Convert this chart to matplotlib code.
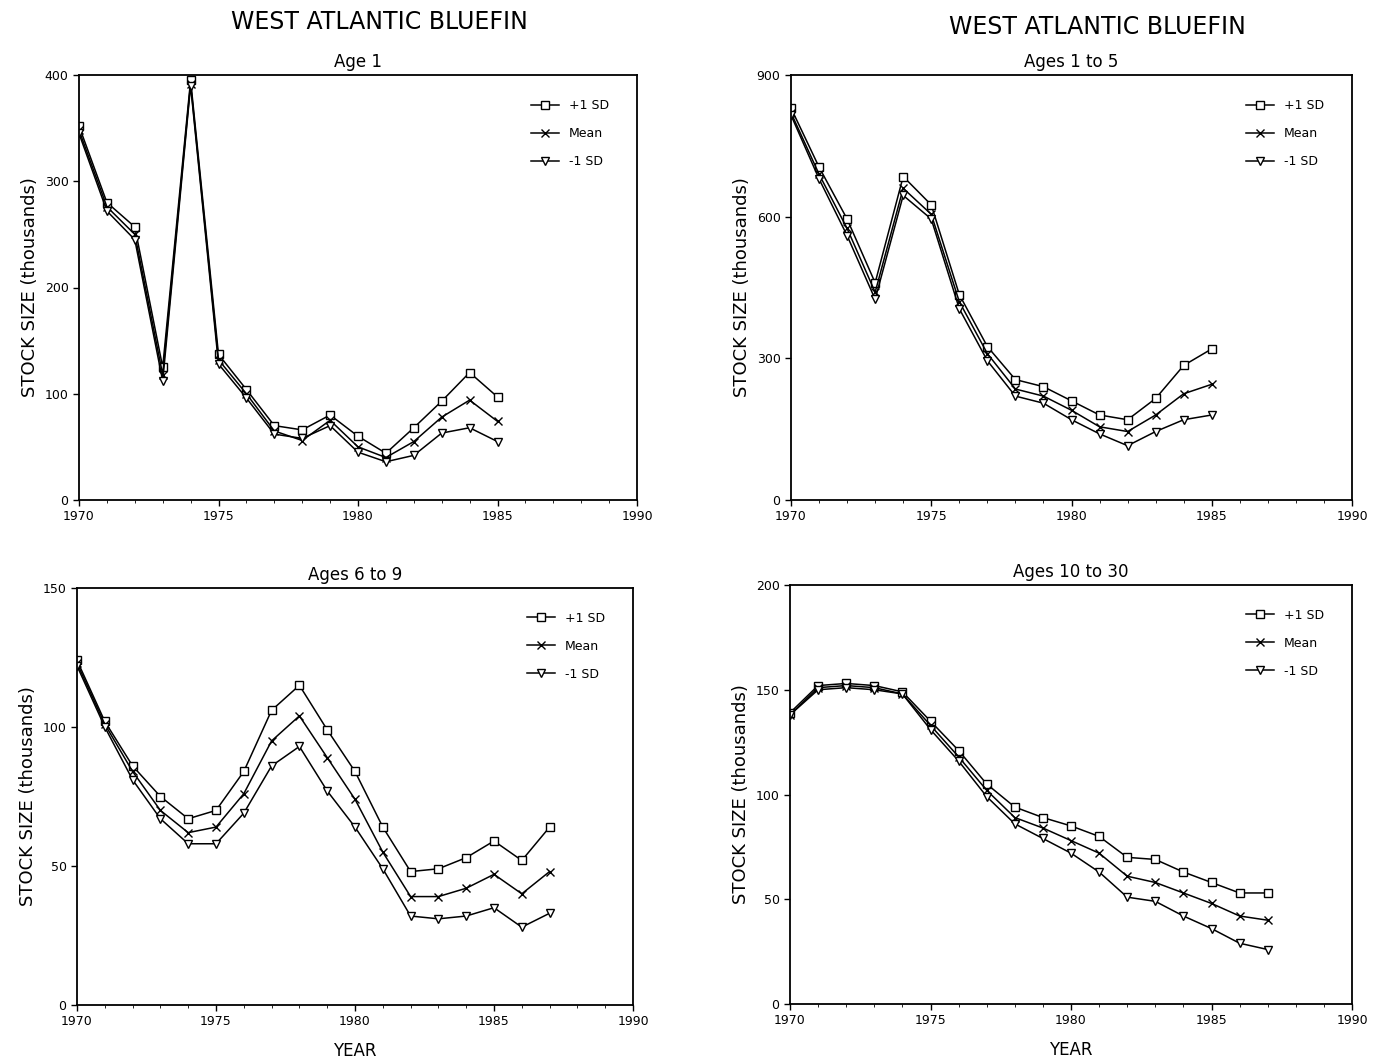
import matplotlib
matplotlib.use("Agg")
import matplotlib.pyplot as plt
import numpy as np

# Age 1, 1970-1985
years_a = list(range(1970, 1986))
age1_plus = [352, 280, 257, 125, 395, 137, 104, 70, 66, 80, 60, 44, 68, 93, 120, 97]
age1_mean = [348, 276, 250, 118, 392, 132, 100, 65, 56, 75, 50, 40, 55, 78, 94, 74]
age1_minus = [345, 272, 245, 112, 390, 128, 96, 62, 58, 70, 45, 36, 42, 63, 68, 55]

# Ages 1 to 5, 1970-1985
ages15_plus = [830, 705, 595, 460, 685, 625, 435, 325, 255, 240, 210, 180, 170, 215, 285, 320]
ages15_mean = [820, 690, 575, 440, 660, 605, 420, 310, 235, 220, 190, 155, 145, 180, 225, 245]
ages15_minus = [815, 680, 560, 425, 645, 595, 405, 295, 220, 205, 170, 140, 115, 145, 170, 180]

# Ages 6 to 9, 1970-1987
years_b = list(range(1970, 1988))
ages69_plus = [124, 102, 86, 75, 67, 70, 84, 106, 115, 99, 84, 64, 48, 49, 53, 59, 52, 64]
ages69_mean = [123, 101, 84, 70, 62, 64, 76, 95, 104, 89, 74, 55, 39, 39, 42, 47, 40, 48]
ages69_minus = [122, 100, 81, 67, 58, 58, 69, 86, 93, 77, 64, 49, 32, 31, 32, 35, 28, 33]

# Ages 10 to 30, 1970-1987
ages1030_plus = [139, 152, 153, 152, 149, 135, 121, 105, 94, 89, 85, 80, 70, 69, 63, 58, 53, 53]
ages1030_mean = [138, 151, 152, 151, 148, 133, 118, 102, 89, 84, 78, 72, 61, 58, 53, 48, 42, 40]
ages1030_minus = [138, 150, 151, 150, 148, 131, 116, 99, 86, 79, 72, 63, 51, 49, 42, 36, 29, 26]

panels = [
    ("Age 1", years_a, age1_plus, age1_mean, age1_minus, 400, [0, 100, 200, 300, 400]),
    ("Ages 1 to 5", years_a, ages15_plus, ages15_mean, ages15_minus, 900, [0, 300, 600, 900]),
    ("Ages 6 to 9", years_b, ages69_plus, ages69_mean, ages69_minus, 150, [0, 50, 100, 150]),
    ("Ages 10 to 30", years_b, ages1030_plus, ages1030_mean, ages1030_minus, 200, [0, 50, 100, 150, 200]),
]

W, H = 1378, 1063
boxes = [
    (79, 75, 637, 500),
    (791, 75, 1352, 500),
    (77, 588, 633, 1005),
    (790, 585, 1352, 1004),
]

fig = plt.figure(figsize=(W / 100, H / 100), dpi=100)
plt.rcParams['font.family'] = ['DejaVu Sans']

for i, (sub, yrs, plus, mean, minus, ymax, yt) in enumerate(panels):
    x0, y0, x1, y1 = boxes[i]
    ax = fig.add_axes([x0 / W, 1 - y1 / H, (x1 - x0) / W, (y1 - y0) / H])
    ax.plot(yrs, plus, color='black', lw=1.1, marker='s', ms=6, mfc='white', mec='black', label='+1 SD')
    ax.plot(yrs, mean, color='black', lw=1.1, marker='x', ms=6, mec='black', label='Mean')
    ax.plot(yrs, minus, color='black', lw=1.1, marker='v', ms=6, mfc='white', mec='black', label='-1 SD')
    ax.set_xlim(1970, 1990)
    ax.set_ylim(0, ymax)
    ax.set_xticks([1970, 1975, 1980, 1985, 1990])
    ax.set_xticks(range(1970, 1991), minor=True)
    ax.set_yticks(yt)
    ax.tick_params(labelsize=9, length=4, width=1)
    ax.tick_params(which='minor', length=2)
    for s in ax.spines.values():
        s.set_linewidth(1.3)
    ax.set_ylabel("STOCK SIZE (thousands)", fontsize=13)
    ax.set_title(sub, fontsize=12, pad=6)
    ax.legend(loc='upper right', frameon=False, fontsize=9, handlelength=2.2,
              labelspacing=1.2, bbox_to_anchor=(0.97, 0.97))
    if i >= 2:
        ax.set_xlabel("YEAR", fontsize=12, labelpad=10)

fig.text(379 / W, 1 - 22 / H, "WEST ATLANTIC BLUEFIN", ha='center', va='center', fontsize=17)
fig.text(1097 / W, 1 - 27 / H, "WEST ATLANTIC BLUEFIN", ha='center', va='center', fontsize=17)

fig.savefig("out.png", dpi=100)
